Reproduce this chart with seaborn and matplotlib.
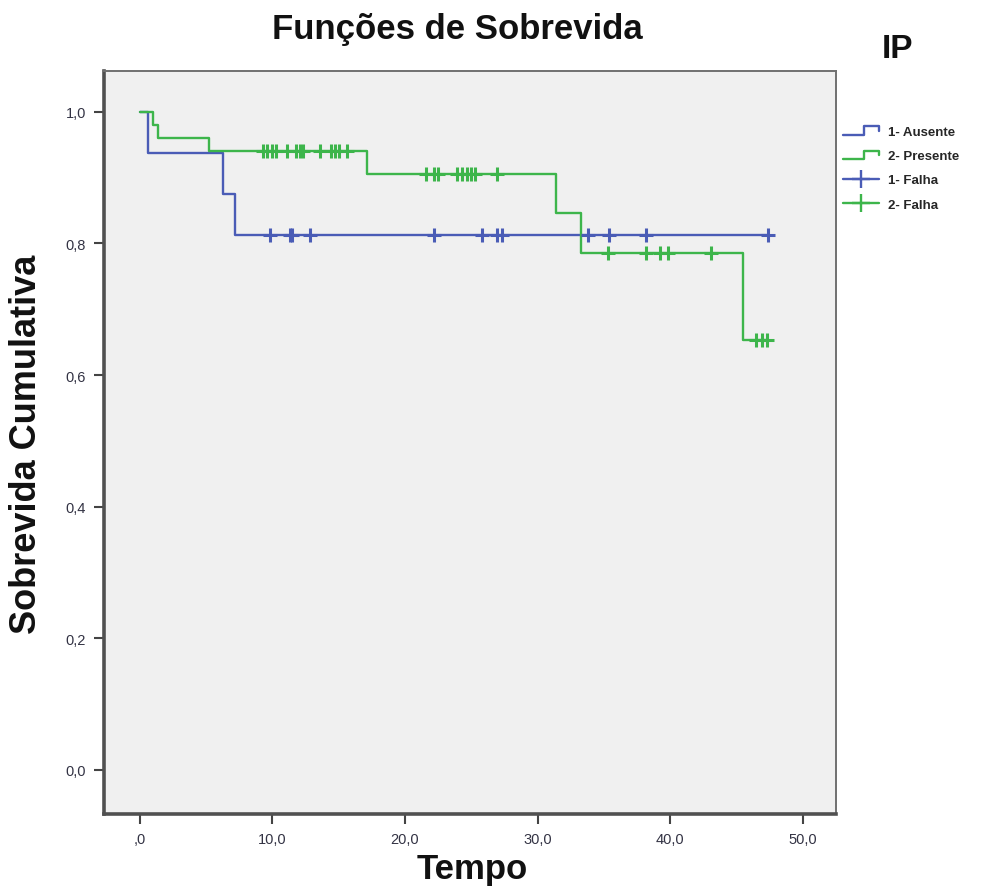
import numpy as np
import pandas as pd
import matplotlib
matplotlib.use("Agg")
import matplotlib.pyplot as plt
import seaborn as sns
from matplotlib.legend_handler import HandlerBase
from matplotlib.lines import Line2D

# Kaplan-Meier estimates per IP group (event times and survival after each event)
groups = ["1- Ausente", "2- Presente"]
censor_labels = ["1- Falha", "2- Falha"]

ausente_event_times = [0.6, 6.3, 7.2]
ausente_event_surv = [0.9375, 0.875, 0.8125]
ausente_censor_times = [9.8, 11.3, 11.5, 12.8, 22.2, 25.8, 26.9, 27.3,
                        33.8, 35.4, 38.2, 47.4]

presente_event_times = [1.0, 1.4, 5.2, 17.1, 31.4, 33.3, 45.5]
presente_event_surv = [0.98, 0.96, 0.94, 0.906, 0.846, 0.785, 0.654]
presente_censor_times = [9.3, 9.6, 10.0, 10.3, 11.1, 11.8, 12.1, 12.3, 13.6,
                         14.4, 14.7, 15.0, 15.6, 21.6, 22.2, 22.5, 23.9, 24.3,
                         24.7, 25.0, 25.3, 26.9, 35.3, 38.2, 39.2, 39.8, 43.1,
                         46.5, 46.9, 47.3]

x_ticks = [0, 10, 20, 30, 40, 50]
x_tick_labels = [",0", "10,0", "20,0", "30,0", "40,0", "50,0"]
y_ticks = [0.0, 0.2, 0.4, 0.6, 0.8, 1.0]
y_tick_labels = ["0,0", "0,2", "0,4", "0,6", "0,8", "1,0"]

colors = {"1- Ausente": "#4a5cb6", "2- Presente": "#3db54b"}


def step_table(name, ev_t, ev_s, cens_t):
    end = max(max(cens_t), max(ev_t))
    t = [0.0] + list(ev_t) + [end]
    s = [1.0] + list(ev_s) + [ev_s[-1]]
    return pd.DataFrame({"Tempo": t, "Sobrevida": s, "IP": name})


def censor_table(name, ev_t, ev_s, cens_t):
    t = np.asarray(cens_t)
    levels = np.concatenate([[1.0], ev_s])
    idx = np.searchsorted(np.asarray(ev_t), t, side="right")
    return pd.DataFrame({"Tempo": t, "Sobrevida": levels[idx], "IP": name})


curves = pd.concat([
    step_table(groups[0], ausente_event_times, ausente_event_surv, ausente_censor_times),
    step_table(groups[1], presente_event_times, presente_event_surv, presente_censor_times),
], ignore_index=True)
censored = pd.concat([
    censor_table(groups[0], ausente_event_times, ausente_event_surv, ausente_censor_times),
    censor_table(groups[1], presente_event_times, presente_event_surv, presente_censor_times),
], ignore_index=True)

sns.set_style("ticks")
plt.rcParams["font.family"] = ["Liberation Sans", "DejaVu Sans"]

fig = plt.figure(figsize=(9.92, 8.95), dpi=100)
ax = fig.add_axes([104 / 992, 1 - 815 / 895, (836 - 104) / 992, (815 - 72) / 895])
ax.set_facecolor("#f0f0f0")

for name in groups:
    sub = curves[curves["IP"] == name]
    sns.lineplot(data=sub, x="Tempo", y="Sobrevida", color=colors[name],
                 drawstyle="steps-post", estimator=None, sort=False,
                 linewidth=1.7, ax=ax, legend=False)
    csub = censored[censored["IP"] == name]
    sns.scatterplot(data=csub, x="Tempo", y="Sobrevida", color=colors[name],
                    marker="+", s=100, linewidth=2.2, ax=ax, legend=False,
                    zorder=3)

ax.set_xlim(-2.7, 52.5)
ax.set_ylim(-0.067, 1.062)
ax.set_xticks(x_ticks)
ax.set_xticklabels(x_tick_labels)
ax.set_yticks(y_ticks)
ax.set_yticklabels(y_tick_labels)
ax.tick_params(axis="both", direction="out", length=7, width=1.5,
               color="#444444", labelsize=10.5, labelcolor="#333344", pad=6)

for side in ["left", "bottom"]:
    ax.spines[side].set_linewidth(2.6)
    ax.spines[side].set_color("#505050")
for side in ["top", "right"]:
    ax.spines[side].set_linewidth(1.4)
    ax.spines[side].set_color("#707070")

ax.set_xlabel("")
ax.set_ylabel("")
fig.text(472 / 992, 1 - 870 / 895, "Tempo", ha="center", va="center",
         fontsize=25, fontweight="bold", color="#111111")
fig.text(27 / 992, 1 - 444 / 895, "Sobrevida Cumulativa", ha="center",
         va="center", rotation=90, fontsize=26, fontweight="bold",
         color="#111111")
fig.text(457 / 992, 1 - 29 / 895, "Funções de Sobrevida", ha="center",
         va="center", fontsize=25, fontweight="bold", color="#111111")
fig.text(898 / 992, 1 - 50 / 895, "IP", ha="center", va="center",
         fontsize=24, fontweight="bold", color="#111111")


class StepHandler(HandlerBase):
    def create_artists(self, legend, orig_handle, xdescent, ydescent,
                       width, height, fontsize, trans):
        xs = np.array([0.0, 0.58, 0.58, 1.0, 1.0]) * width - xdescent
        ys = np.array([0.05, 0.05, 0.95, 0.95, 0.45]) * height - ydescent
        line = Line2D(xs, ys, color=orig_handle.get_color(),
                      lw=orig_handle.get_linewidth(), transform=trans)
        return [line]


step_handles = [Line2D([], [], color=colors[g], lw=1.7) for g in groups]
cross_handles = [Line2D([0, 1], [0, 0], color=colors[g], lw=1.7, marker="+",
                        markersize=13, markeredgewidth=1.7) for g in groups]
handles = step_handles + cross_handles
labels = groups + censor_labels
handler_map = {h: StepHandler() for h in step_handles}

fig.legend(handles, labels, handler_map=handler_map, loc="upper left",
           bbox_to_anchor=(843 / 992, 1 - 127 / 895), frameon=False,
           prop={"weight": "bold", "size": 9.5}, handlelength=2.73,
           handletextpad=0.68, labelspacing=0.9, borderpad=0, borderaxespad=0,
           numpoints=1)

fig.savefig("out.png", dpi=100, facecolor="white")
